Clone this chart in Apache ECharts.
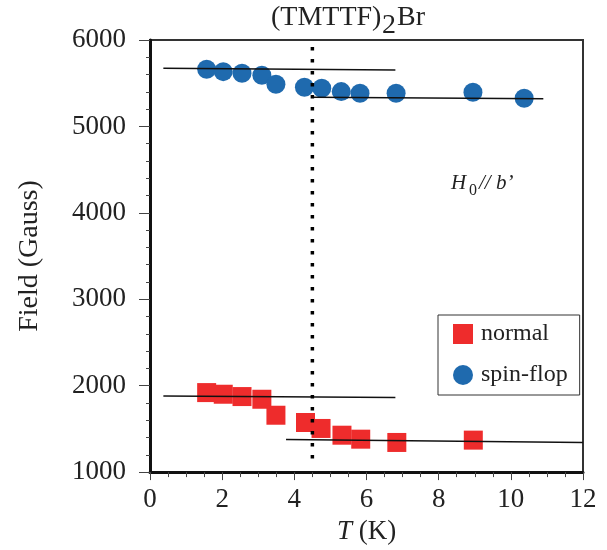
<!DOCTYPE html>
<html>
<head>
<meta charset="utf-8">
<script src="https://cdn.jsdelivr.net/npm/echarts@6/dist/echarts.min.js"></script>
<style>
  html, body { margin: 0; padding: 0; background: #fff; }
  #chart { width: 607px; height: 550px; }
</style>
</head>
<body>
<div id="chart"></div>
<script>
// (TMTTF)2Br : spin-flop / normal fields vs temperature

const tempNormal = [1.57, 2.03, 2.55, 3.10, 3.49, 4.31, 4.74, 5.32, 5.84, 6.84, 8.96];
const fieldNormal = [1920, 1901, 1874, 1843, 1658, 1574, 1505, 1427, 1381, 1343, 1370];

const tempSpinFlop = [1.57, 2.03, 2.55, 3.10, 3.49, 4.28, 4.76, 5.30, 5.82, 6.82, 8.95, 10.37];
const fieldSpinFlop = [5662, 5634, 5615, 5592, 5488, 5454, 5442, 5403, 5384, 5384, 5396, 5327];

// guide lines (start / end points)
const fitSpinFlopLow = [[0.37, 5672], [6.80, 5653]];
const fitSpinFlopHigh = [[4.53, 5338], [10.9, 5319]];
const fitNormalLow = [[0.37, 1881], [6.80, 1862]];
const fitNormalHigh = [[3.77, 1378], [12, 1343]];
const transitionT = 4.5;
const transitionRange = [5920, 1150];

const xTicks = [0, 2, 4, 6, 8, 10, 12];
const yTicks = [1000, 2000, 3000, 4000, 5000, 6000];

const serif = 'Liberation Serif';
const red = '#EE2C2C';
const blue = '#1F6AAE';

function zip(xs, ys) {
    return xs.map((x, i) => [x, ys[i]]);
}

function guide(data) {
    return {
        type: 'line',
        data: data,
        symbol: 'none',
        silent: true,
        z: 5,
        lineStyle: { color: '#111', width: 1.5 }
    };
}

const myChart = echarts.init(document.getElementById('chart'), null, { renderer: 'canvas' });
myChart.setOption({
    animation: false,
    backgroundColor: '#fff',
    grid: {
        left: 150, right: 24, top: 40, bottom: 77,
        show: true, borderColor: '#333', borderWidth: 2
    },
    legend: {
        data: ['normal', 'spin-flop'],
        orient: 'vertical',
        left: 438, top: 315,
        padding: [7, 12, 8, 15],
        itemGap: 17,
        itemWidth: 20, itemHeight: 20,
        borderColor: '#333', borderWidth: 1,
        textStyle: { fontFamily: serif, fontSize: 24, color: '#222', padding: [0, 0, 0, 3] }
    },
    xAxis: {
        type: 'value',
        min: xTicks[0], max: xTicks[xTicks.length - 1], interval: 2,
        name: '{i|T} (K)',
        nameLocation: 'middle',
        nameGap: 44,
        nameTextStyle: {
            fontFamily: serif, fontSize: 27, color: '#222',
            rich: { i: { fontFamily: serif, fontSize: 27, fontStyle: 'italic', color: '#222' } }
        },
        axisLine: { lineStyle: { color: '#111', width: 3 } },
        axisTick: { length: 8, lineStyle: { color: '#444', width: 1 } },
        minorTick: { show: true, splitNumber: 4, length: 5, lineStyle: { color: '#444', width: 1 } },
        axisLabel: { fontFamily: serif, fontSize: 27, color: '#222', margin: 14 },
        splitLine: { show: false }
    },
    yAxis: {
        type: 'value',
        min: yTicks[0], max: yTicks[yTicks.length - 1], interval: 1000,
        name: 'Field (Gauss)',
        nameLocation: 'middle',
        nameGap: 106,
        nameTextStyle: { fontFamily: serif, fontSize: 28, color: '#222' },
        axisLine: { lineStyle: { color: '#111', width: 3 } },
        axisTick: { length: 11, lineStyle: { color: '#444', width: 1 } },
        minorTick: { show: true, splitNumber: 5, length: 4, lineStyle: { color: '#444', width: 1 } },
        axisLabel: {
            fontFamily: serif, fontSize: 27, color: '#222', margin: 24,
            formatter: v => String(v)
        },
        splitLine: { show: false }
    },
    graphic: [
        { type: 'text', left: 271, top: 4, style: { text: '(TMTTF)', font: '28px "Liberation Serif"', fill: '#222' } },
        { type: 'text', left: 382, top: 12, style: { text: '2', font: '28px "Liberation Serif"', fill: '#222' } },
        { type: 'text', left: 397, top: 4, style: { text: 'Br', font: '28px "Liberation Serif"', fill: '#222' } },
        { type: 'text', left: 451, top: 173, style: { text: 'H', font: 'italic 21px "Liberation Serif"', fill: '#222' } },
        { type: 'text', left: 469, top: 183, style: { text: '0', font: '16px "Liberation Serif"', fill: '#222' } },
        { type: 'text', left: 479, top: 173, style: { text: '// b\u2019', font: 'italic 21px "Liberation Serif"', fill: '#222' } }
    ],
    series: [
        {
            name: 'normal',
            type: 'scatter',
            symbol: 'rect',
            symbolSize: 19,
            itemStyle: { color: red, opacity: 1 },
            data: zip(tempNormal, fieldNormal),
            z: 3
        },
        {
            name: 'spin-flop',
            type: 'scatter',
            symbol: 'circle',
            symbolSize: 19,
            itemStyle: { color: blue, opacity: 1 },
            data: zip(tempSpinFlop, fieldSpinFlop),
            z: 3
        },
        guide(fitSpinFlopLow),
        guide(fitSpinFlopHigh),
        guide(fitNormalLow),
        guide(fitNormalHigh),
        {
            type: 'line',
            data: transitionRange.map(f => [transitionT, f]),
            symbol: 'none',
            silent: true,
            z: 6,
            lineStyle: { color: '#000', width: 3.5, type: [3.5, 8.5], cap: 'butt' }
        }
    ]
});
</script>
</body>
</html>
